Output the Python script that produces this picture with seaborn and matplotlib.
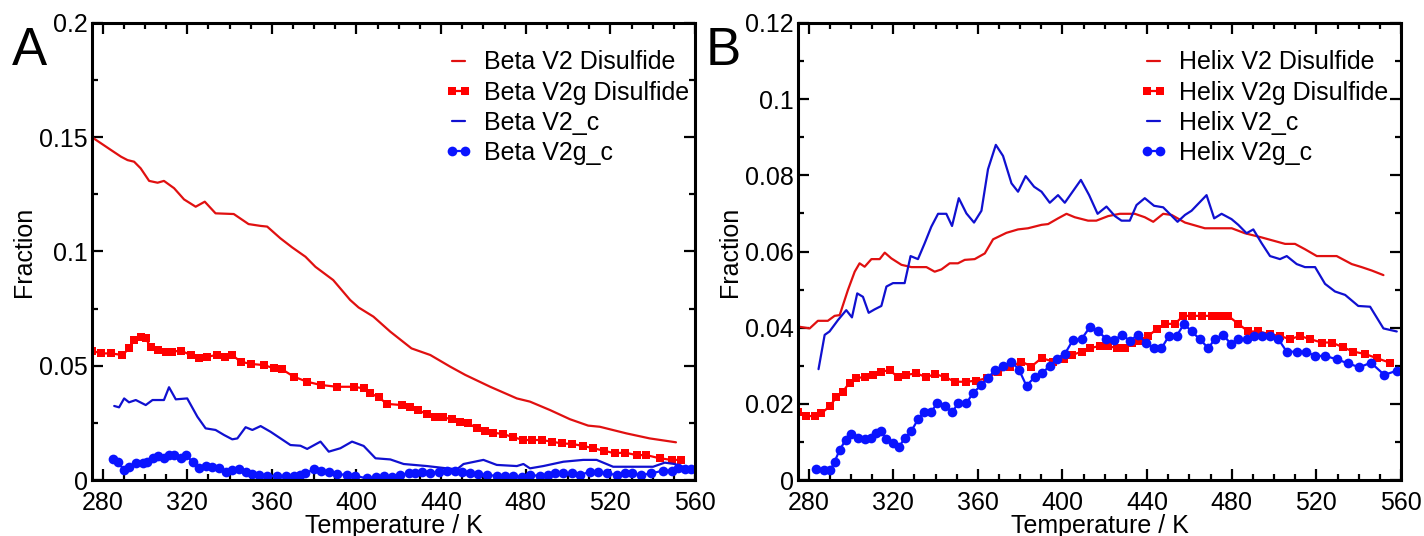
import numpy as np
import matplotlib
matplotlib.use("Agg")
import matplotlib.pyplot as plt
from matplotlib.ticker import MultipleLocator, FormatStrFormatter
import seaborn as sns

# ---------------- data ----------------
# Panel A : beta fraction
A_dis_T = [275, 284, 288.7, 291.8, 294.9, 298, 302, 306, 309, 313.8, 318.5, 324, 328.3, 333.4, 342, 349, 354.7,
           357.8, 364, 369.6, 375.9, 380.6, 389, 397, 401, 408, 416, 426, 434.9, 444.3, 451.4, 463.2, 475.8, 482,
           491.5, 500.9, 509.5, 515, 527.6, 538.6, 551]
A_dis_v = [0.1500, 0.1444, 0.1415, 0.1400, 0.1393, 0.1364, 0.1309, 0.1301, 0.1309, 0.1277, 0.1228, 0.1196, 0.1218,
           0.1167, 0.1164, 0.1120, 0.1112, 0.1109, 0.1058, 0.1018, 0.0977, 0.0933, 0.0875, 0.0788, 0.0755, 0.0715,
           0.0649, 0.0576, 0.0547, 0.0496, 0.0460, 0.0408, 0.0357, 0.0343, 0.0306, 0.0266, 0.0238, 0.0233, 0.0204,
           0.0182, 0.0165]

A_gdis_T = [275, 279.2, 284, 289.4, 292.5, 295, 298, 300.4, 302.8, 306, 310, 313, 317, 321.7, 325.6, 329.5, 334.2,
            338, 341.3, 345.2, 350, 356.2, 361, 364.9, 370.4, 376.7, 383, 390.8, 398.7, 403.4, 406.6, 410.5, 414.4,
            421.5, 425.4, 429.3, 433.3, 437.2, 441.1, 445, 449, 452.9, 456.9, 460.8, 464.7, 469.4, 474.2, 478.9,
            482.8, 487.5, 492.3, 497, 501.7, 507.2, 511.9, 517, 522, 526.8, 532.4, 537, 543.3, 548.9, 553.6]
A_gdis_v = [0.0566, 0.0554, 0.0554, 0.0547, 0.0576, 0.0613, 0.0624, 0.0620, 0.0580, 0.0569, 0.0562, 0.0562, 0.0566,
            0.0547, 0.0533, 0.0540, 0.0547, 0.0540, 0.0547, 0.0518, 0.0508, 0.0503, 0.0489, 0.0484, 0.0452, 0.0430,
            0.0416, 0.0408, 0.0408, 0.0401, 0.0379, 0.0362, 0.0333, 0.0328, 0.0321, 0.0306, 0.0287, 0.0277, 0.0274,
            0.0266, 0.0255, 0.0248, 0.0226, 0.0216, 0.0207, 0.0201, 0.0187, 0.0175, 0.0175, 0.0175, 0.0168, 0.0160,
            0.0158, 0.0149, 0.0139, 0.0128, 0.0117, 0.0120, 0.0109, 0.0109, 0.0095, 0.0088, 0.0088]

A_c_T = [285.5, 287.8, 290.2, 292.5, 295.7, 300.4, 303.6, 309, 311.4, 314.6, 320, 324.8, 328.7, 333.4, 337.4, 341.3,
         343.7, 347.6, 350.8, 354.7, 359.4, 368.8, 373.5, 376.7, 383, 386.9, 392.4, 397.9, 403.4, 409, 416, 422.3,
         433.3, 442.7, 447.5, 450.6, 460, 466.3, 475.8, 478.9, 482, 488.3, 497.8, 507.2, 513.5, 521.3, 532.4, 540.2,
         545.7, 550.4, 554.3, 559]
A_c_v = [0.0324, 0.0318, 0.0357, 0.0340, 0.0350, 0.0328, 0.0350, 0.0350, 0.0406, 0.0353, 0.0357, 0.0277, 0.0226,
         0.0219, 0.0197, 0.0178, 0.0182, 0.0231, 0.0219, 0.0236, 0.0211, 0.0153, 0.0150, 0.0136, 0.0168, 0.0124,
         0.0139, 0.0168, 0.0149, 0.0095, 0.0090, 0.0070, 0.0061, 0.0051, 0.0047, 0.0070, 0.0088, 0.0066, 0.0061,
         0.0070, 0.0051, 0.0061, 0.0080, 0.0088, 0.0088, 0.0058, 0.0058, 0.0058, 0.0076, 0.0070, 0.0058, 0.0044]

A_gc_T = [284.7, 287.4, 289.9, 292.5, 295.7, 298.9, 301.2, 303.6, 306, 309, 311.4, 313.8, 317, 319.3, 322.5, 325.6,
          328.7, 331.9, 335, 338.2, 341.3, 344.4, 347.6, 350.8, 353.9, 357.8, 362.5, 366.5, 370.4, 373.5, 375.9,
          379.8, 383, 386.9, 390.8, 395.6, 399.5, 405, 409, 412.8, 416.8, 420.7, 424.6, 427.8, 430.9, 434.9, 438.8,
          442.7, 446.7, 449.8, 453.7, 457.6, 461.6, 466.3, 470.2, 474.2, 478.1, 482, 486.7, 490.7, 493.8, 497.7,
          501.7, 505.6, 510.3, 514.2, 518.2, 522.9, 526.8, 530, 534.7, 539.4, 544.9, 548.9, 552, 555.1, 558.3]
A_gc_v = [0.0090, 0.0080, 0.0044, 0.0058, 0.0076, 0.0076, 0.0080, 0.0095, 0.0105, 0.0095, 0.0109, 0.0109, 0.0095,
          0.0109, 0.0080, 0.0051, 0.0061, 0.0055, 0.0051, 0.0036, 0.0044, 0.0047, 0.0036, 0.0026, 0.0022, 0.0018,
          0.0018, 0.0018, 0.0018, 0.0022, 0.0029, 0.0047, 0.0041, 0.0036, 0.0026, 0.0022, 0.0018, 0.0007, 0.0014,
          0.0018, 0.0014, 0.0022, 0.0029, 0.0029, 0.0036, 0.0029, 0.0036, 0.0041, 0.0041, 0.0036, 0.0029, 0.0026,
          0.0022, 0.0018, 0.0018, 0.0018, 0.0014, 0.0022, 0.0018, 0.0022, 0.0029, 0.0029, 0.0029, 0.0022, 0.0036,
          0.0036, 0.0029, 0.0022, 0.0029, 0.0029, 0.0022, 0.0029, 0.0041, 0.0041, 0.0051, 0.0047, 0.0047]

# Panel B : helix fraction
B_dis_T = [275, 280.5, 284.4, 289.1, 292.3, 294.7, 298.6, 301.8, 304.1, 306.5, 309.7, 313.6, 316, 319.1, 323.9,
           328.6, 335.7, 339.6, 342.8, 346.7, 350.6, 353.8, 358.5, 363.3, 367.2, 373.5, 379, 383.7, 390.1, 393.2,
           397.9, 401.9, 405.8, 412.1, 416, 421.6, 427.1, 434.2, 438.9, 442.9, 447.6, 451.6, 457.9, 467.3, 480,
           486.2, 494.1, 505.2, 509.9, 514.6, 520.2, 529.6, 536.7, 541.4, 546.2, 551.7]
B_dis_v = [0.0403, 0.0398, 0.0418, 0.0418, 0.0431, 0.0433, 0.0499, 0.0547, 0.0569, 0.0560, 0.0580, 0.0580, 0.0597,
           0.0582, 0.0565, 0.0559, 0.0559, 0.0547, 0.0553, 0.0569, 0.0569, 0.0578, 0.0580, 0.0595, 0.0632, 0.0649,
           0.0658, 0.0661, 0.0670, 0.0672, 0.0687, 0.0699, 0.0690, 0.0681, 0.0681, 0.0693, 0.0699, 0.0699, 0.0690,
           0.0678, 0.0699, 0.0696, 0.0676, 0.0661, 0.0661, 0.0648, 0.0637, 0.0620, 0.0620, 0.0606, 0.0588, 0.0588,
           0.0567, 0.0559, 0.0550, 0.0538]

B_gdis_T = [275, 279, 282.8, 286, 289.9, 293.1, 296.2, 299.4, 302.6, 306.5, 310.4, 314.4, 318.3, 322.2, 326.2,
            330.9, 335.7, 339.6, 344.3, 349.1, 354.6, 359.3, 364.1, 369.5, 375.1, 380.6, 385.3, 390.1, 395.6, 400.5,
            404.5, 409, 413, 417.5, 421.6, 425.6, 429.5, 432.7, 436.6, 440.5, 444.5, 448.4, 453.1, 457.1, 461,
            465.8, 470.5, 474.4, 478.3, 483.1, 487.8, 492.5, 498.1, 502.8, 507.5, 512.3, 517, 522.5, 527.3, 532.8,
            537.5, 543, 548.5, 554.8]
B_gdis_v = [0.0179, 0.0168, 0.0168, 0.0175, 0.0193, 0.0217, 0.0232, 0.0256, 0.0267, 0.0271, 0.0276, 0.0284, 0.0289,
            0.0270, 0.0276, 0.0280, 0.0270, 0.0278, 0.0271, 0.0258, 0.0258, 0.0261, 0.0267, 0.0284, 0.0296, 0.0311,
            0.0298, 0.0320, 0.0311, 0.0318, 0.0328, 0.0337, 0.0346, 0.0352, 0.0352, 0.0346, 0.0346, 0.0359, 0.0366,
            0.0378, 0.0396, 0.0410, 0.0410, 0.0431, 0.0431, 0.0431, 0.0431, 0.0431, 0.0431, 0.0410, 0.0390, 0.0390,
            0.0383, 0.0378, 0.0370, 0.0378, 0.0370, 0.0361, 0.0361, 0.0348, 0.0337, 0.0331, 0.0320, 0.0308]

B_c_T = [284.7, 287.6, 289.9, 293.9, 297.8, 300.5, 303, 305.7, 308.4, 311.2, 314.4, 316.8, 319.9, 325.4, 328.2,
         331.7, 334.9, 338, 341.2, 345.1, 347.8, 351, 354.6, 358.2, 361.7, 364.8, 368.5, 371.9, 375.9, 379, 382.6,
         386.6, 390.1, 394, 397.9, 401.1, 408.7, 412.6, 416.6, 420.8, 424.8, 427.9, 431.8, 435, 438.9, 443.3,
         447.6, 454.4, 457.9, 461, 468.1, 471.7, 475.2, 479.9, 483.1, 487, 490.2, 494.1, 498.1, 502.8, 506, 510.7,
         514.6, 519.4, 524.1, 528.8, 533.6, 539.8, 545.4, 551.7, 558]
B_c_v = [0.0291, 0.0381, 0.0390, 0.0420, 0.0446, 0.0427, 0.0490, 0.0481, 0.0439, 0.0448, 0.0457, 0.0508, 0.0517,
         0.0517, 0.0588, 0.0580, 0.0622, 0.0665, 0.0699, 0.0699, 0.0667, 0.0740, 0.0700, 0.0676, 0.0707, 0.0816,
         0.0880, 0.0851, 0.0779, 0.0757, 0.0798, 0.0770, 0.0757, 0.0728, 0.0748, 0.0728, 0.0788, 0.0748, 0.0699,
         0.0718, 0.0693, 0.0681, 0.0681, 0.0722, 0.0740, 0.0720, 0.0716, 0.0678, 0.0696, 0.0707, 0.0748, 0.0687,
         0.0699, 0.0685, 0.0670, 0.0648, 0.0658, 0.0622, 0.0588, 0.0580, 0.0588, 0.0567, 0.0559, 0.0559, 0.0515,
         0.0495, 0.0486, 0.0457, 0.0455, 0.0398, 0.0390]

B_gc_T = [283.6, 287.1, 290.3, 292.3, 294.7, 297.5, 300.2, 303.3, 306.5, 309.7, 312, 314.4, 316.8, 319.9, 322.7,
          325.4, 328.6, 331.7, 334.4, 338, 340.7, 344.3, 348, 350.6, 354.6, 357.7, 361.7, 364.8, 368, 371.9, 375.9,
          379.5, 383, 386.9, 390.1, 394, 397.2, 401.1, 405, 409, 412.9, 416.9, 420.8, 424.4, 428.2, 431.8, 435.8,
          439.7, 443.3, 446.8, 450.3, 453.9, 457.5, 461, 464.9, 468.9, 472, 476, 479.6, 483.1, 487, 490.6, 494.4,
          498.1, 502, 506, 510.7, 515, 519.4, 524.1, 529.6, 535.1, 540.3, 545.8, 552.1, 558]
B_gc_v = [0.0028, 0.0026, 0.0026, 0.0048, 0.0079, 0.0105, 0.0121, 0.0109, 0.0107, 0.0109, 0.0123, 0.0129, 0.0107,
          0.0098, 0.0087, 0.0109, 0.0129, 0.0159, 0.0179, 0.0179, 0.0201, 0.0193, 0.0179, 0.0201, 0.0201, 0.0229,
          0.0249, 0.0267, 0.0289, 0.0299, 0.0311, 0.0289, 0.0247, 0.0271, 0.0280, 0.0299, 0.0317, 0.0331, 0.0368,
          0.0370, 0.0401, 0.0390, 0.0370, 0.0368, 0.0381, 0.0366, 0.0381, 0.0359, 0.0346, 0.0346, 0.0378, 0.0378,
          0.0410, 0.0390, 0.0370, 0.0346, 0.0370, 0.0381, 0.0357, 0.0370, 0.0370, 0.0378, 0.0378, 0.0378, 0.0370,
          0.0337, 0.0337, 0.0337, 0.0326, 0.0326, 0.0317, 0.0306, 0.0296, 0.0308, 0.0276, 0.0287]

labels_A = ["Beta V2 Disulfide", "Beta V2g Disulfide", "Beta V2_c", "Beta V2g_c"]
labels_B = ["Helix V2 Disulfide", "Helix V2g Disulfide", "Helix V2_c", "Helix V2g_c"]

# ---------------- styling ----------------
sns.set_theme(style="ticks")
plt.rcParams["font.family"] = ["Liberation Sans", "DejaVu Sans"]
plt.rcParams["axes.linewidth"] = 2.2
plt.rcParams["text.color"] = "black"
plt.rcParams["axes.labelcolor"] = "black"
plt.rcParams["xtick.color"] = "black"
plt.rcParams["ytick.color"] = "black"
plt.rcParams["xtick.labelcolor"] = "black"
plt.rcParams["ytick.labelcolor"] = "black"

RED_LINE = "#e01010"
RED_MARK = "#ff0000"
BLUE_LINE = "#1010d0"
BLUE_MARK = "#0a14ff"
FS = 18

W, H = 1424, 536
fig = plt.figure(figsize=(W / 100, H / 100), dpi=100)
axA = fig.add_axes([92 / W, 56 / H, 603 / W, 457 / H])
axB = fig.add_axes([798 / W, 56 / H, 603 / W, 457 / H])


def draw(ax, s1, s2, s3, s4, labels):
    sns.lineplot(x=s1[0], y=s1[1], ax=ax, color=RED_LINE, linewidth=1.6, label=labels[0],
                 estimator=None, sort=False)
    sns.lineplot(x=s2[0], y=s2[1], ax=ax, color=RED_MARK, linewidth=1.6, marker="s", markersize=6,
                 markeredgewidth=0, label=labels[1], estimator=None, sort=False)
    sns.lineplot(x=s3[0], y=s3[1], ax=ax, color=BLUE_LINE, linewidth=1.6, label=labels[2],
                 estimator=None, sort=False)
    sns.lineplot(x=s4[0], y=s4[1], ax=ax, color=BLUE_MARK, linewidth=1.6, marker="o", markersize=7,
                 markeredgewidth=0, label=labels[3], estimator=None, sort=False)


draw(axA, (A_dis_T, A_dis_v), (A_gdis_T, A_gdis_v), (A_c_T, A_c_v), (A_gc_T, A_gc_v), labels_A)
draw(axB, (B_dis_T, B_dis_v), (B_gdis_T, B_gdis_v), (B_c_T, B_c_v), (B_gc_T, B_gc_v), labels_B)

for ax, ymax, ymaj, ymin, lx in [(axA, 0.2, 0.05, 0.025, 0.585), (axB, 0.12, 0.02, 0.01, 0.567)]:
    ax.set_xlim(275, 560)
    ax.set_ylim(0, ymax)
    ax.xaxis.set_major_locator(MultipleLocator(40))
    ax.xaxis.set_minor_locator(MultipleLocator(10))
    ax.yaxis.set_major_locator(MultipleLocator(ymaj))
    ax.yaxis.set_minor_locator(MultipleLocator(ymin))
    ax.yaxis.set_major_formatter(FormatStrFormatter("%g"))
    ax.tick_params(which="both", direction="in", top=True, right=True, width=1.6, colors="black",
                   labelsize=FS)
    ax.tick_params(which="major", length=8)
    ax.tick_params(which="minor", length=4.5)
    ax.tick_params(axis="x", pad=8)
    ax.tick_params(axis="y", pad=3)
    for sp in ax.spines.values():
        sp.set_visible(True)
        sp.set_color("black")
        sp.set_linewidth(2.2)
    ax.set_xlabel("Temperature / K", fontsize=FS, labelpad=-1, color="black")
    ax.set_ylabel("Fraction", fontsize=FS, labelpad=2, color="black")
    ax.set_facecolor("white")
    leg = ax.legend(loc="upper left", bbox_to_anchor=(lx, 0.94), frameon=False, fontsize=FS,
                    numpoints=2, handlelength=1.1, handletextpad=0.45, labelspacing=0.25,
                    borderpad=0, borderaxespad=0)
    for t in leg.get_texts():
        t.set_color("black")

fig.text(12 / W, 1 - 65 / H, "A", fontsize=38, va="baseline", ha="left", color="black")
fig.text(706 / W, 1 - 65 / H, "B", fontsize=38, va="baseline", ha="left", color="black")

fig.savefig("out.png", dpi=100, facecolor="white")
